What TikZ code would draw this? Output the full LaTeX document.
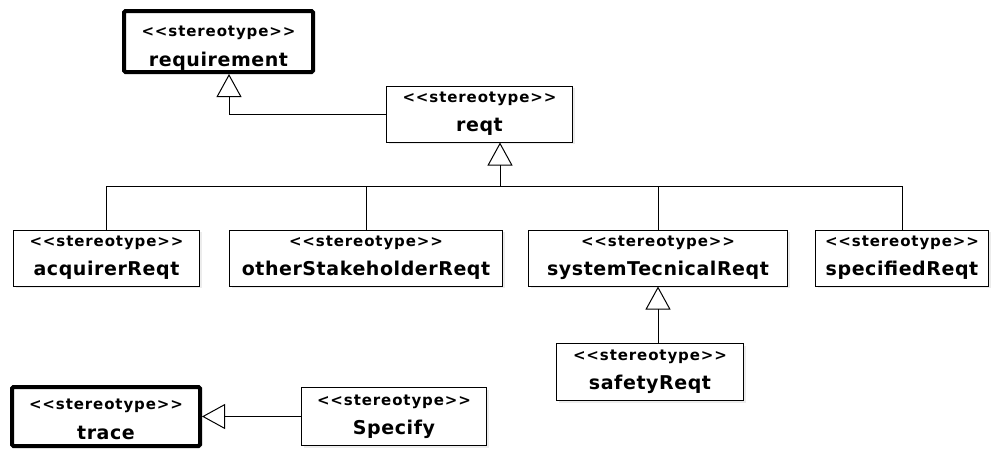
\documentclass[tikz,border=0pt]{standalone}
\usepackage{fontspec}
\usepackage{tikz}
\usetikzlibrary{arrows.meta,shadows}
\newfontfamily\stfont[LetterSpace=6]{DejaVu Sans}
\newfontfamily\nmfont[LetterSpace=3]{DejaVu Sans}
\newcommand{\stlabel}[1]{{\stfont\bfseries\fontsize{15}{29}\selectfont <{}<stereotype>{}>}\\{\nmfont\bfseries\fontsize{19}{29}\selectfont #1}}
\begin{document}
\begin{tikzpicture}[x=1pt,y=-1pt,
    stbox/.style={draw, line width=1pt, fill=white, inner sep=0pt, align=center,
        minimum height=56pt, font=\fontsize{12}{29}\selectfont,
        drop shadow={shadow xshift=2pt, shadow yshift=-2pt, opacity=.15}},
    stthick/.style={stbox, line width=4pt, rounded corners=1.5pt, font=\fontsize{12}{30}\selectfont, text height=47pt},
    gen/.style={line width=1pt, -{Triangle[open, length=23pt, width=25pt]}}]
            \useasboundingbox (0,0) rectangle (991,450);
            % Top-level stereotypes
            \node[stthick, text height=53pt, minimum width=189pt, minimum height=61pt] (requirement) at (218.5,41.5) {\stlabel{requirement}};
            \node[stbox, minimum width=186pt] (reqt) at (479.5,114) {\stlabel{reqt}};
            % Requirement kinds
            \node[stbox, minimum width=186pt] (acq) at (106.5,258) {\stlabel{acquirerReqt}};
            \node[stbox, minimum width=273pt] (other) at (366,258) {\stlabel{otherStakeholderReqt}};
            \node[stbox, minimum width=259pt] (sys) at (658,258) {\stlabel{systemTecnicalReqt}};
            \node[stbox, minimum width=173pt] (spec) at (902,258) {\stlabel{specifiedReqt}};
            \node[stbox, minimum width=187pt, minimum height=57pt] (safety) at (650,372) {\stlabel{safetyReqt}};
            % Trace
            \node[stthick, minimum width=188pt, minimum height=59pt] (trace) at (106,416.5) {\stlabel{trace}};
            \node[stbox, minimum width=185pt, minimum height=58pt] (specify) at (394,416.5) {\stlabel{Specify}};

            % Generalizations
            \coordinate (bus) at (500,186);
            \foreach \n in {acq,other,sys,spec}
                {
                    \draw[line width=1pt] (\n.north) -- (\n.north |- bus);
                }
            \draw[line width=1pt] (acq.north |- bus) -- (spec.north |- bus);
            \draw[gen] (bus) -- (bus |- reqt.south);
            \draw[gen] (reqt.west) -| ([xshift=10.5pt]requirement.south);
            \draw[gen] (safety.north -| sys.south) -- (sys.south);
            \draw[gen] (specify.west) -- (trace.east);

        \end{tikzpicture}
\end{document}
